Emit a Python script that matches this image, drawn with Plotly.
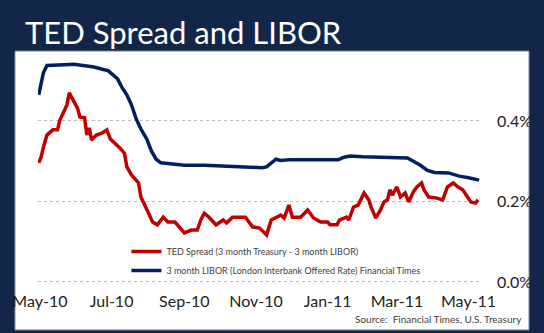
import plotly.graph_objects as go

# ---- data ----
libor_dates = ["2010-04-30", "2010-05-03", "2010-05-04", "2010-05-07", "2010-05-14", "2010-05-22",
               "2010-05-30", "2010-06-08", "2010-06-16", "2010-06-24", "2010-06-28", "2010-07-02",
               "2010-07-06", "2010-07-10", "2010-07-14", "2010-07-18", "2010-07-22", "2010-07-26",
               "2010-07-31", "2010-08-04", "2010-08-08", "2010-08-12", "2010-08-20", "2010-09-01",
               "2010-09-18", "2010-10-04", "2010-10-20", "2010-11-06", "2010-11-10", "2010-11-14",
               "2010-11-18", "2010-11-22", "2010-11-30", "2010-12-17", "2011-01-10", "2011-01-15",
               "2011-01-20", "2011-01-31", "2011-02-08", "2011-02-24", "2011-03-10", "2011-03-15",
               "2011-03-21", "2011-03-27", "2011-04-02", "2011-04-14", "2011-04-23", "2011-05-01",
               "2011-05-10"]
libor_values = [0.465, 0.500, 0.520, 0.538, 0.538, 0.540,
                0.541, 0.537, 0.534, 0.528, 0.525, 0.515,
                0.505, 0.483, 0.465, 0.440, 0.405, 0.380,
                0.355, 0.325, 0.305, 0.296, 0.293, 0.290,
                0.290, 0.288, 0.287, 0.284, 0.286, 0.297,
                0.305, 0.302, 0.304, 0.304, 0.304, 0.310,
                0.313, 0.311, 0.310, 0.310, 0.308, 0.300,
                0.290, 0.277, 0.272, 0.271, 0.263, 0.259,
                0.253]

ted_dates = ["2010-04-30", "2010-05-02", "2010-05-04", "2010-05-07", "2010-05-12", "2010-05-16",
             "2010-05-18", "2010-05-21", "2010-05-24", "2010-05-26", "2010-05-29", "2010-06-02",
             "2010-06-04", "2010-06-08", "2010-06-10", "2010-06-12", "2010-06-14", "2010-06-18",
             "2010-06-23", "2010-06-27", "2010-06-30", "2010-07-04", "2010-07-08", "2010-07-12",
             "2010-07-14", "2010-07-18", "2010-07-24", "2010-07-26", "2010-07-31", "2010-08-05",
             "2010-08-09", "2010-08-14", "2010-08-18", "2010-08-24", "2010-09-01", "2010-09-07",
             "2010-09-12", "2010-09-15", "2010-09-18", "2010-09-22", "2010-09-28", "2010-10-04",
             "2010-10-07", "2010-10-12", "2010-10-23", "2010-10-29", "2010-11-04", "2010-11-08",
             "2010-11-10", "2010-11-14", "2010-11-18", "2010-11-22", "2010-11-25", "2010-11-29",
             "2010-12-02", "2010-12-09", "2010-12-15", "2010-12-20", "2010-12-26", "2011-01-01",
             "2011-01-03", "2011-01-09", "2011-01-11", "2011-01-17", "2011-01-19", "2011-01-23",
             "2011-01-27", "2011-02-01", "2011-02-05", "2011-02-07", "2011-02-11", "2011-02-15",
             "2011-02-18", "2011-02-21", "2011-02-23", "2011-02-25", "2011-03-01", "2011-03-04",
             "2011-03-08", "2011-03-11", "2011-03-15", "2011-03-18", "2011-03-22", "2011-03-24",
             "2011-03-28", "2011-04-03", "2011-04-09", "2011-04-13", "2011-04-18", "2011-04-22",
             "2011-04-26", "2011-04-29", "2011-05-03", "2011-05-07", "2011-05-09"]
ted_values = [0.296, 0.310, 0.335, 0.365, 0.378, 0.378,
              0.402, 0.420, 0.440, 0.470, 0.452, 0.432,
              0.410, 0.408, 0.365, 0.383, 0.353, 0.365,
              0.370, 0.378, 0.355, 0.345, 0.333, 0.320,
              0.286, 0.266, 0.246, 0.211, 0.179, 0.149,
              0.142, 0.161, 0.149, 0.149, 0.122, 0.129,
              0.129, 0.154, 0.171, 0.161, 0.142, 0.154,
              0.147, 0.161, 0.161, 0.137, 0.134, 0.124,
              0.117, 0.154, 0.161, 0.166, 0.159, 0.191,
              0.161, 0.161, 0.179, 0.159, 0.149, 0.149,
              0.142, 0.142, 0.154, 0.161, 0.154, 0.186,
              0.191, 0.221, 0.204, 0.186, 0.159, 0.179,
              0.199, 0.204, 0.229, 0.216, 0.236, 0.211,
              0.221, 0.199, 0.224, 0.236, 0.246, 0.229,
              0.211, 0.209, 0.204, 0.236, 0.246, 0.236,
              0.229, 0.216, 0.199, 0.196, 0.204]

x_tick_vals = ["2010-05-01", "2010-07-01", "2010-09-01", "2010-11-01", "2011-01-01", "2011-03-01", "2011-05-01"]
x_tick_text = ["May-10", "Jul-10", "Sep-10", "Nov-10", "Jan-11", "Mar-11", "May-11"]
y_tick_vals = [0.0, 0.2, 0.4]
y_tick_text = ["0.0%", "0.2%", "0.4%"]

ted_name = "TED Spread (3 month Treasury - 3 month LIBOR)"
libor_name = "3 month LIBOR (London Interbank Offered Rate) Financial Times"

FONT = "Lato"
NAVY_BG = "#12264A"

W, H = 544, 333
ML, MR, MT, MB = 27, 56, 56, 49
PW, PH = W - ML - MR, H - MT - MB


def px(x):
    return (x - ML) / PW


def py(y):
    return (H - MB - y) / PH


fig = go.Figure()
fig.add_trace(go.Scatter(x=ted_dates, y=ted_values, mode="lines", name=ted_name,
                         line=dict(color="#C00000", width=3.5), legendgroup="a"))
fig.add_trace(go.Scatter(x=libor_dates, y=libor_values, mode="lines", name=libor_name,
                         line=dict(color="#002060", width=3.5), legendgroup="b"))

# white panel behind the chart
fig.add_shape(type="rect", xref="paper", yref="paper",
              x0=px(3), x1=px(538), y0=py(330), y1=py(51),
              fillcolor="white", line=dict(color="#6f7c90", width=1), layer="below")

fig.add_annotation(text="TED Spread and LIBOR", xref="paper", yref="paper",
                   x=px(11), y=py(32), xanchor="left", yanchor="middle",
                   showarrow=False, font=dict(family=FONT, size=31, color="white"))
fig.add_annotation(text="Source:  Financial Times, U.S. Treasury", xref="paper", yref="paper",
                   x=px(533), y=py(319), xanchor="right", yanchor="middle",
                   showarrow=False, font=dict(family=FONT, size=10, color="#404040"))

fig.update_layout(
    width=W, height=H,
    margin=dict(l=ML, r=MR, t=MT, b=MB),
    paper_bgcolor=NAVY_BG, plot_bgcolor="white",
    font=dict(family=FONT, color="#222222"),
    showlegend=True,
    legend=dict(x=px(119), y=py(237), xanchor="left", yanchor="top",
                bgcolor="rgba(0,0,0,0)", font=dict(family=FONT, size=9, color="#404040"),
                itemwidth=30, tracegroupgap=4, traceorder="normal"),
    xaxis=dict(type="date", range=["2010-04-29 09:00", "2011-05-11 14:00"],
               tickmode="array", tickvals=x_tick_vals, ticktext=x_tick_text,
               showgrid=False, zeroline=False, showline=False, ticks="",
               ticklabelstandoff=6,
               tickfont=dict(family=FONT, size=16, color="#222222")),
    yaxis=dict(range=[-0.005, PH / 402.5 - 0.005], side="right",
               tickmode="array", tickvals=y_tick_vals, ticktext=y_tick_text,
               showgrid=True, gridcolor="#BDBDBD", griddash="dot", gridwidth=1,
               zeroline=False, showline=False, ticks="", ticklabelstandoff=15,
               tickfont=dict(family=FONT, size=16, color="#222222")),
)

fig.write_html("out.html")
